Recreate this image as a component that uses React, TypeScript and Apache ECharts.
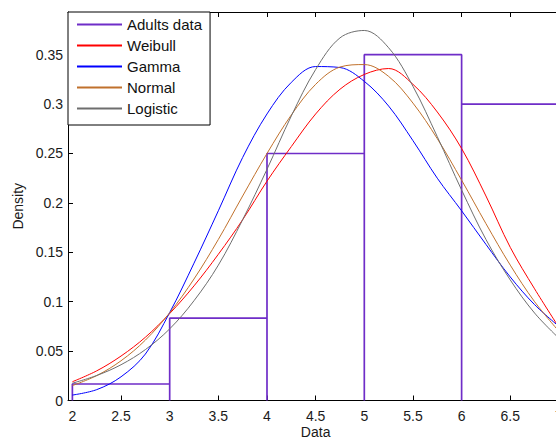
import React, { useEffect, useRef } from "react";
import * as echarts from "echarts";

// x positions where the fitted curves were read
const xGrid = [2, 2.25, 2.5, 2.75, 3, 3.25, 3.5, 3.75, 4, 4.25, 4.5, 4.75, 5, 5.25, 5.5, 5.75, 6, 6.25, 6.5, 6.75, 7];
const weibull = [0.019, 0.03, 0.045, 0.064, 0.088, 0.116, 0.148, 0.183, 0.222, 0.257, 0.29, 0.315, 0.33, 0.336, 0.32, 0.292, 0.255, 0.207, 0.155, 0.113, 0.074];
const gamma = [0.0055, 0.011, 0.024, 0.047, 0.089, 0.139, 0.192, 0.246, 0.29, 0.322, 0.338, 0.337, 0.323, 0.298, 0.263, 0.225, 0.192, 0.158, 0.125, 0.097, 0.075];
const normal = [0.0151, 0.0252, 0.0402, 0.0611, 0.0888, 0.123, 0.163, 0.207, 0.25, 0.289, 0.32, 0.3375, 0.34, 0.328, 0.301, 0.265, 0.223, 0.179, 0.137, 0.1, 0.07];
const logistic = [0.0175, 0.0253, 0.0362, 0.0515, 0.0725, 0.101, 0.137, 0.183, 0.234, 0.288, 0.335, 0.367, 0.3745, 0.357, 0.318, 0.267, 0.213, 0.163, 0.122, 0.0885, 0.063];

// histogram (density) of adults data
const binEdges = [2, 3, 4, 5, 6, 7];
const binHeights = [0.0167, 0.0833, 0.25, 0.35, 0.3];

const xTicks = [2, 2.5, 3, 3.5, 4, 4.5, 5, 5.5, 6, 6.5, 7];
const yTicks = [0, 0.05, 0.1, 0.15, 0.2, 0.25, 0.3, 0.35];

const names = ["Adults data", "Weibull", "Gamma", "Normal", "Logistic"];
const colors = ["#6f2dc8", "#ff0000", "#0000ff", "#c0712c", "#6e6e6e"];

const FONT = "'Liberation Sans', Arial, Helvetica, sans-serif";

export default function App() {
  const ref = useRef<HTMLDivElement>(null);
  useEffect(() => {
    if (!ref.current) return;
    const chart = echarts.init(ref.current, undefined, { renderer: "svg" });

    const outline: number[][] = [];
    for (let i = 0; i < binHeights.length; i++) {
      outline.push([binEdges[i], 0]);
      outline.push([binEdges[i], binHeights[i]]);
      outline.push([binEdges[i + 1], binHeights[i]]);
      outline.push([binEdges[i + 1], 0]);
    }
    const pair = (ys: number[]) => xGrid.map((x, i) => [x, ys[i]]);
    const curves = [weibull, gamma, normal, logistic];

    const axisLine = { show: true, lineStyle: { color: "#000", width: 1 } };
    const tick = { show: true, inside: true, length: 5, lineStyle: { color: "#000" } };
    const label = { color: "#1a1a1a", fontFamily: FONT, fontSize: 14 };

    chart.setOption({
      animation: false,
      backgroundColor: "#ffffff",
      grid: { left: 68, top: 12, right: 56.7, bottom: 38.5, show: false, containLabel: false, outerBoundsMode: "none" },
      legend: {
        orient: "vertical",
        left: 68,
        top: 12,
        data: names,
        itemWidth: 45,
        itemHeight: 14,
        itemGap: 6,
        padding: [5, 8, 9, 8],
        borderColor: "#000",
        borderWidth: 1,
        borderRadius: 0,
        backgroundColor: "#fff",
        itemStyle: { opacity: 0 },
        textStyle: { color: "#111", fontFamily: FONT, fontSize: 15 },
      },
      xAxis: [
        {
          type: "value",
          min: 1.955,
          max: 7.045,
          name: "Data",
          nameLocation: "middle",
          nameGap: 24,
          nameMoveOverlap: false,
          nameTextStyle: { color: "#1a1a1a", fontFamily: FONT, fontSize: 14 },
          axisLine,
          axisTick: { ...tick, customValues: xTicks },
          axisLabel: { ...label, margin: 8, customValues: xTicks },
          splitLine: { show: false },
        },
        {
          type: "value",
          position: "top",
          min: 1.955,
          max: 7.045,
          axisLine,
          axisTick: { ...tick, customValues: xTicks },
          axisLabel: { show: false },
          splitLine: { show: false },
        },
      ],
      yAxis: {
        type: "value",
        min: 0,
        max: 0.3932,
        name: "Density",
        nameLocation: "middle",
        nameGap: 43,
        nameMoveOverlap: false,
        nameTextStyle: { color: "#1a1a1a", fontFamily: FONT, fontSize: 14 },
        axisLine,
        axisTick: { ...tick, customValues: yTicks },
        axisLabel: { ...label, margin: 5, customValues: yTicks },
        splitLine: { show: false },
      },
      series: [
        {
          name: names[0],
          type: "line",
          data: outline,
          symbol: "none",
          lineStyle: { color: colors[0], width: 1.7 },
          itemStyle: { color: colors[0] },
        },
        ...curves.map((c, i) => ({
          name: names[i + 1],
          type: "line",
          data: pair(c),
          symbol: "none",
          smooth: 0.35,
          lineStyle: { color: colors[i + 1], width: 1 },
          itemStyle: { color: colors[i + 1] },
        })),
      ],
    });
    return () => chart.dispose();
  }, []);

  return (
    <div style={{ position: "fixed", left: 0, top: 0, width: 556, height: 439, overflow: "hidden", background: "#fff" }}>
      <div ref={ref} style={{ width: 620, height: 439 }} />
    </div>
  );
}
